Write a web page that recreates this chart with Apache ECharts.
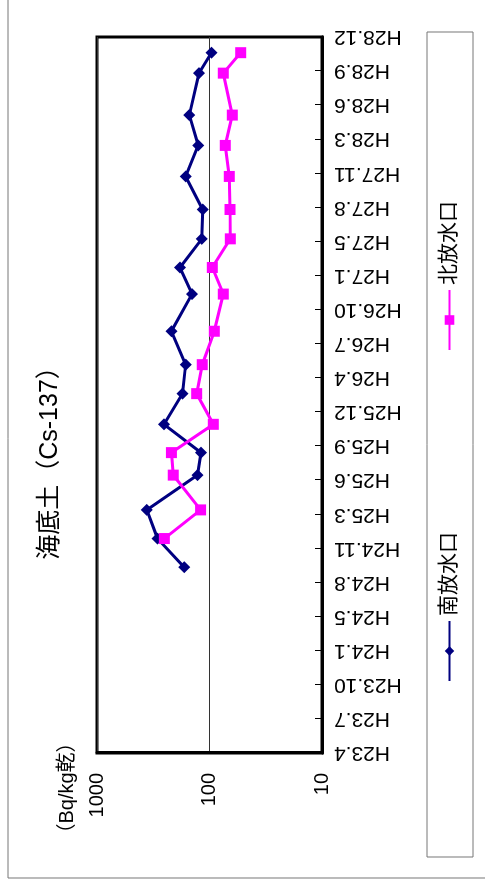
<!DOCTYPE html>
<html>
<head>
<meta charset="utf-8">
<script src="https://cdn.jsdelivr.net/npm/echarts@6/dist/echarts.min.js"></script>
<style>
  html, body { margin: 0; padding: 0; background: #fff; width: 485px; height: 886px; overflow: hidden; }
  #c { position: absolute; left: 0; top: 0; width: 886px; height: 485px;
       transform-origin: 0 0; transform: translate(0px, 886px) rotate(-90deg); }
</style>
</head>
<body>
<div id="c"></div>
<script>
// Tick labels of the date axis (one every 100 days from 2011-04-01)
const tickLabels = ['H23.4','H23.7','H23.10','H24.1','H24.5','H24.8','H24.11','H25.3','H25.6','H25.9','H25.12',
                    'H26.4','H26.7','H26.10','H27.1','H27.5','H27.8','H27.11','H28.3','H28.6','H28.9','H28.12'];
// Sampling dates
const sampleDates = ['2012-09-27','2012-12-20','2013-03-14','2013-06-24','2013-08-29','2013-11-20','2014-02-18',
                     '2014-05-14','2014-08-20','2014-12-07','2015-02-23','2015-05-18','2015-08-12','2015-11-17',
                     '2016-02-16','2016-05-15','2016-09-15','2016-11-14'];
// 南放水口 (Bq/kg乾)
const southValues = [168, 290, 361, 128, 119, 254, 174, 163, 218, 143, 183, 117, 115, 163, 126, 151, 124, 96];
// 北放水口 (Bq/kg乾)
const northValues = [null, 252, 120, 210, 218, 92.5, 130, 116, 90.6, 75.4, 94.4, 65.3, 65.7, 66.7, 72.4, 62.7, 75.4, 52.8];
const valueTicks = [10, 100, 1000];

const startDate = Date.UTC(2011, 3, 1);
const dayOf = s => (Date.parse(s) - startDate) / 86400000;
const pairs = vals => sampleDates.map((d, i) => [dayOf(d), vals[i]]).filter(p => p[1] != null);

const FONT = "'Liberation Sans', 'Noto Sans CJK JP', sans-serif";
const chart = echarts.init(document.getElementById('c'), null, { renderer: 'canvas' });
chart.setOption({
  animation: false,
  backgroundColor: '#fff',
  textStyle: { fontFamily: FONT },
  grid: { left: 133, right: 37, top: 97, bottom: 163, show: true, borderColor: '#000', borderWidth: 3, backgroundColor: 'transparent' },
  xAxis: {
    type: 'value', min: 0, max: 2100, interval: 100,
    axisLine: { show: true, lineStyle: { color: '#000', width: 3 } },
    axisTick: { show: true, inside: true, length: 7, lineStyle: { color: '#000', width: 1 } },
    splitLine: { show: false },
    axisLabel: { rotate: 90, margin: 12, fontSize: 21, color: '#000', fontFamily: FONT,
                 formatter: v => tickLabels[Math.round(v / 100)] || '' }
  },
  yAxis: {
    type: 'log', logBase: 10, min: valueTicks[0], max: valueTicks[valueTicks.length - 1],
    axisLine: { show: true, lineStyle: { color: '#000', width: 3 } },
    axisTick: { show: false },
    splitLine: { show: true, lineStyle: { color: '#333', width: 1 } },
    axisLabel: { margin: 20, fontSize: 20, color: '#000', fontFamily: FONT, formatter: v => String(Math.round(v)) }
  },
  legend: {
    left: 204, top: 439, padding: 0, itemWidth: 60, itemHeight: 12, itemGap: 181,
    textStyle: { fontSize: 21, color: '#000', fontFamily: FONT },
    data: ['南放水口', '北放水口']
  },
  graphic: [
    { type: 'rect', shape: { x: 8, y: 8, width: 1000, height: 600 }, style: { fill: 'none', stroke: '#777', lineWidth: 1 }, silent: true, z: -10 },
    { type: 'rect', shape: { x: 29, y: 427, width: 825, height: 46 }, style: { fill: 'none', stroke: '#777', lineWidth: 1 }, silent: true },
    { type: 'text', x: 429, y: 50, style: { text: '海底土（Cs-137）', font: "25px " + FONT, fill: '#000', textAlign: 'center', textVerticalAlign: 'middle' } },
    { type: 'text', x: 98, y: 67, style: { text: '（Bq/kg乾）', font: "20px " + FONT, fill: '#000', textAlign: 'center', textVerticalAlign: 'middle' } }
  ],
  series: [
    { name: '南放水口', type: 'line', data: pairs(southValues), symbol: 'diamond', symbolSize: 12,
      itemStyle: { color: '#000080' }, lineStyle: { color: '#000080', width: 3 } },
    { name: '北放水口', type: 'line', data: pairs(northValues), symbol: 'rect', symbolSize: 11,
      itemStyle: { color: '#FF00FF' }, lineStyle: { color: '#FF00FF', width: 3 } }
  ]
});
</script>
</body>
</html>
